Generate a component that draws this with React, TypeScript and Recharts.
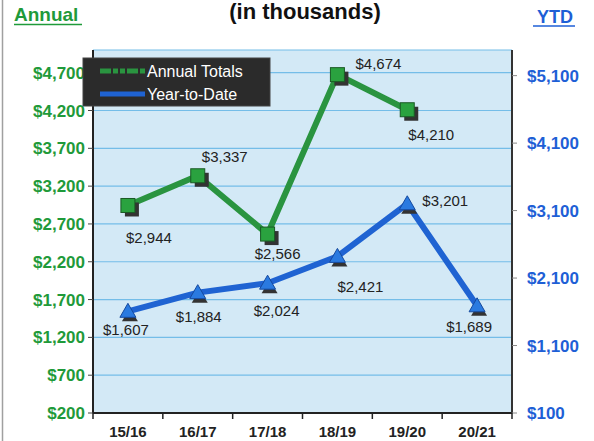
import React from 'react';
import { LineChart, Line, XAxis, YAxis, CartesianGrid, LabelList } from 'recharts';

const categories = ['15/16', '16/17', '17/18', '18/19', '19/20', '20/21'];
const annualTotals: (number | null)[] = [2944, 3337, 2566, 4674, 4210, null];
const yearToDate: number[] = [1607, 1884, 2024, 2421, 3201, 1689];
const annualTicks = [200, 700, 1200, 1700, 2200, 2700, 3200, 3700, 4200, 4700];
const ytdTicks = [100, 1100, 2100, 3100, 4100, 5100];
// label offsets relative to each point (dx, dy of the label centre)
const annualLabelOffsets = [[21, 32], [27, -19], [10, 19], [41, -11], [24, 25]];
const ytdLabelOffsets = [[-2, 18], [1, 24], [9, 27], [23, 30], [38, -3], [-8, 21]];

const data = categories.map((c, i) => ({ category: c, annual: annualTotals[i], ytd: yearToDate[i] }));

const W = 594;
const H = 441;
const LEFT_W = 93;
const RIGHT_W = 82;
const TOP = 50;
const XAXIS_H = 28;
const BAND = (W - LEFT_W - RIGHT_W) / categories.length;

const FONT = '"Liberation Sans", Arial, sans-serif';
const GREEN = '#2a9440';
const BLUE = '#1f63d2';
const GREEN_TXT = '#1f9a3a';
const BLUE_TXT = '#1e5fd6';

const fmt = (v: number) => '$' + v.toLocaleString('en-US');

const SquareDot = (props: any) => {
  const { cx, cy, value, index } = props;
  if (cx == null || cy == null || value == null) return <g key={'s' + index} />;
  return (
    <g key={'s' + index}>
      <rect x={cx - 7 + 4} y={cy - 7 + 4} width={14} height={14} fill="#333" />
      <rect x={cx - 7} y={cy - 7} width={14} height={14} fill="#2aa23f" stroke="#1a5a25" strokeWidth={1} />
    </g>
  );
};

const TriDot = (props: any) => {
  const { cx, cy, value, index } = props;
  if (cx == null || cy == null || value == null) return <g key={'t' + index} />;
  return (
    <g key={'t' + index}>
      <path d={`M${cx + 2},${cy - 3} L${cx + 10},${cy + 10} L${cx - 6},${cy + 10} Z`} fill="#333" />
      <path d={`M${cx},${cy - 8} L${cx + 8},${cy + 6} L${cx - 8},${cy + 6} Z`} fill="#2a7ae0" stroke="#164a9e" strokeWidth={1} />
    </g>
  );
};

const makeLabel = (offsets: number[][]) => (props: any) => {
  const { x, y, value, index } = props;
  if (value == null || x == null || y == null) return null;
  const o = offsets[index] || [0, 20];
  return (
    <text
      x={x + o[0]}
      y={y + o[1]}
      textAnchor="middle"
      dominantBaseline="central"
      fontFamily={FONT}
      fontSize={15}
      fill="#222"
    >
      {fmt(value)}
    </text>
  );
};

const XTick = (props: any) => {
  const { x, y, payload, index } = props;
  const left = x - BAND / 2;
  const right = x + BAND / 2;
  return (
    <g>
      <line x1={left} y1={y} x2={left} y2={y + 6} stroke="#222" strokeWidth={1.5} />
      {index === categories.length - 1 && (
        <line x1={right} y1={y} x2={right} y2={y + 6} stroke="#222" strokeWidth={1.5} />
      )}
      <text x={x} y={y + 24} textAnchor="middle" fontFamily={FONT} fontWeight="bold" fontSize={15} fill="#222">
        {payload.value}
      </text>
    </g>
  );
};

export default function App() {
  return (
    <div style={{ position: 'absolute', left: 0, top: 0, width: W, height: H, background: '#fff', overflow: 'hidden' }}>
      <LineChart width={W} height={H} data={data} margin={{ top: TOP, right: 0, bottom: 0, left: 0 }}>
        <CartesianGrid
          yAxisId="left"
          vertical={false}
          stroke="#74bde8"
          strokeWidth={1.2}
          fill="#d3e9f6"
          fillOpacity={1}
        />
        <XAxis
          dataKey="category"
          height={XAXIS_H}
          padding={{ left: BAND / 2, right: BAND / 2 }}
          tickLine={false}
          tickSize={0}
          tickMargin={0}
          axisLine={{ stroke: '#222', strokeWidth: 2 }}
          tick={<XTick />}
          interval={0}
        />
        <XAxis
          xAxisId="top"
          orientation="top"
          dataKey="category"
          height={0}
          padding={{ left: BAND / 2, right: BAND / 2 }}
          tick={false}
          tickLine={false}
          axisLine={{ stroke: '#333', strokeWidth: 2 }}
        />
        <YAxis
          yAxisId="left"
          width={LEFT_W}
          domain={[200, 5000]}
          ticks={annualTicks}
          interval={0}
          allowDataOverflow
          axisLine={{ stroke: '#222', strokeWidth: 2 }}
          tickLine={{ stroke: '#444' }}
          tickSize={5}
          tickMargin={3}
          tickFormatter={fmt}
          tick={{ fill: GREEN_TXT, fontFamily: FONT, fontWeight: 'bold', fontSize: 17 }}
        />
        <YAxis
          yAxisId="right"
          orientation="right"
          width={RIGHT_W}
          domain={[100, 5480]}
          ticks={ytdTicks}
          interval={0}
          allowDataOverflow
          axisLine={{ stroke: '#333', strokeWidth: 2 }}
          tickLine={{ stroke: '#888' }}
          tickSize={5}
          tickMargin={10}
          tickFormatter={fmt}
          tick={{ fill: BLUE_TXT, fontFamily: FONT, fontWeight: 'bold', fontSize: 17 }}
        />
        <Line
          yAxisId="right"
          dataKey="ytd"
          stroke={BLUE}
          strokeWidth={6}
          dot={TriDot}
          activeDot={false}
          isAnimationActive={false}
        >
          <LabelList dataKey="ytd" content={makeLabel(ytdLabelOffsets)} />
        </Line>
        <Line
          yAxisId="left"
          dataKey="annual"
          stroke={GREEN}
          strokeWidth={6}
          dot={SquareDot}
          activeDot={false}
          isAnimationActive={false}
        >
          <LabelList dataKey="annual" content={makeLabel(annualLabelOffsets)} />
        </Line>
      </LineChart>
      <svg width={W} height={H} style={{ position: 'absolute', left: 0, top: 0, pointerEvents: 'none' }}>
        <line x1={2.5} y1={0} x2={2.5} y2={H} stroke="#a0a0a0" strokeWidth={1.5} />
        <text x={305} y={19} textAnchor="middle" fontFamily={FONT} fontWeight="bold" fontSize={22} fill="#111">
          (in thousands)
        </text>
        <text x={14} y={21} fontFamily={FONT} fontWeight="bold" fontSize={19} fill={GREEN_TXT}>
          Annual
        </text>
        <line x1={14} y1={24.5} x2={82} y2={24.5} stroke={GREEN_TXT} strokeWidth={1.5} />
        <text x={537} y={23} fontFamily={FONT} fontWeight="bold" fontSize={18} fill={BLUE_TXT}>
          YTD
        </text>
        <line x1={533} y1={26} x2={575} y2={26} stroke={BLUE_TXT} strokeWidth={1.5} />
        <g>
          <rect x={83} y={58} width={187} height={48} fill="#2b2b2b" stroke="#444" strokeWidth={1} />
          <line x1={100} y1={71} x2={145} y2={71} stroke={GREEN} strokeWidth={5} strokeDasharray="11 2 5 2 5 2" />
          <text x={147} y={71} dominantBaseline="central" fontFamily={FONT} fontSize={16} fill="#fff">
            Annual Totals
          </text>
          <line x1={100} y1={94} x2={145} y2={94} stroke={BLUE} strokeWidth={5} />
          <text x={147} y={94} dominantBaseline="central" fontFamily={FONT} fontSize={16} fill="#fff">
            Year-to-Date
          </text>
        </g>
      </svg>
    </div>
  );
}
